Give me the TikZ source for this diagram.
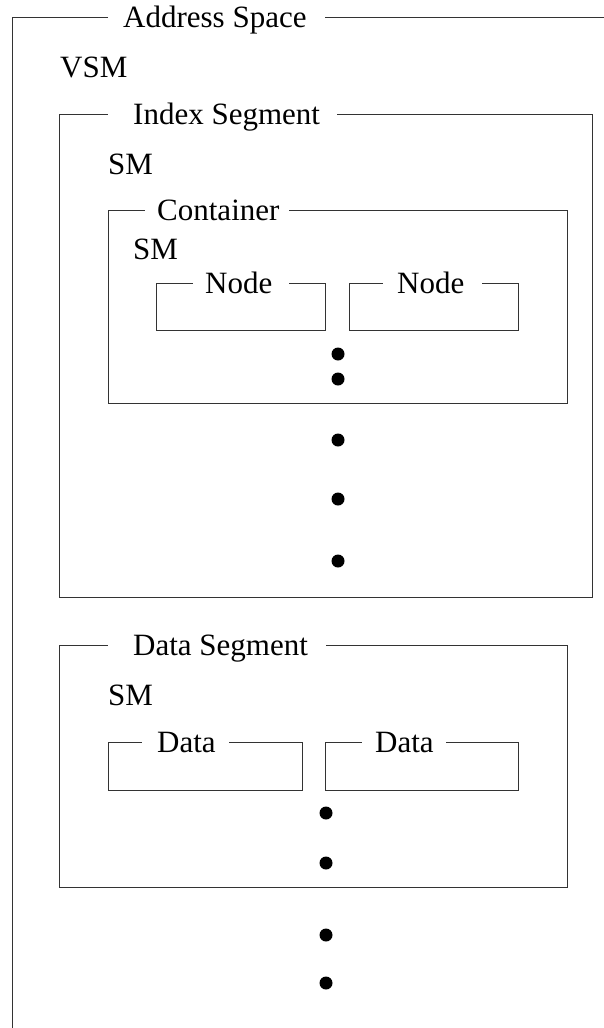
\documentclass[tikz,border=0pt]{standalone}
\usepackage{fontspec}
\setmainfont{Liberation Serif}
\begin{document}
\begin{tikzpicture}[x=1pt,y=-1pt,
  frame/.style={draw=black!80, line width=1pt},
  title/.style={anchor=base west, inner sep=0pt, font=\fontsize{31}{36}\selectfont},
  dotnode/.style={circle, fill=black, draw=none, inner sep=0pt, minimum size=13pt}]
\useasboundingbox (0,0) rectangle (604,1028);
% Address Space (outer)
\draw[frame] (325,17) -- (604,17);
\draw[frame] (108,17) -- (12,17) -- (12,1028);
\node[title] (as) at (123,27) {Address Space};
\node[title] (vsm) at (60,77) {VSM};
% Index Segment
\draw[frame] (337,114) -- (592,114) -- (592,597) -- (59.5,597) -- (59.5,114) -- (108,114);
\node[title] (iseg) at (133,124) {Index Segment};
\node[title] (ism) at (108,174) {SM};
% Container
\draw[frame] (289,210) -- (567,210) -- (567,403) -- (108,403) -- (108,210) -- (145,210);
\node[title] (cont) at (157,220) {Container};
\node[title] (csm) at (133,259) {SM};
% Nodes
\draw[frame] (289,283) -- (325,283) -- (325,330) -- (156,330) -- (156,283) -- (193,283);
\node[title] (n1) at (205,293) {Node};
\draw[frame] (482,283) -- (518,283) -- (518,330) -- (349,330) -- (349,283) -- (383,283);
\node[title] (n2) at (397,293) {Node};
\node[dotnode] (cd1) at (338,354) {};
\node[dotnode] (cd2) at (338,379) {};
\node[dotnode] (id1) at (338,440) {};
\node[dotnode] (id2) at (338,499) {};
\node[dotnode] (id3) at (338,561) {};
% Data Segment
\draw[frame] (326,645) -- (567,645) -- (567,887) -- (59.5,887) -- (59.5,645) -- (108,645);
\node[title] (dseg) at (133,655) {Data Segment};
\node[title] (dsm) at (108,705) {SM};
\draw[frame] (229,742) -- (302,742) -- (302,790) -- (108,790) -- (108,742) -- (142,742);
\node[title] (d1) at (157,752) {Data};
\draw[frame] (446,742) -- (518,742) -- (518,790) -- (325,790) -- (325,742) -- (362,742);
\node[title] (d2) at (375,752) {Data};
\node[dotnode] (dd1) at (326,813) {};
\node[dotnode] (dd2) at (326,863) {};
\node[dotnode] (od1) at (326,935) {};
\node[dotnode] (od2) at (326,983) {};
\end{tikzpicture}
\end{document}
